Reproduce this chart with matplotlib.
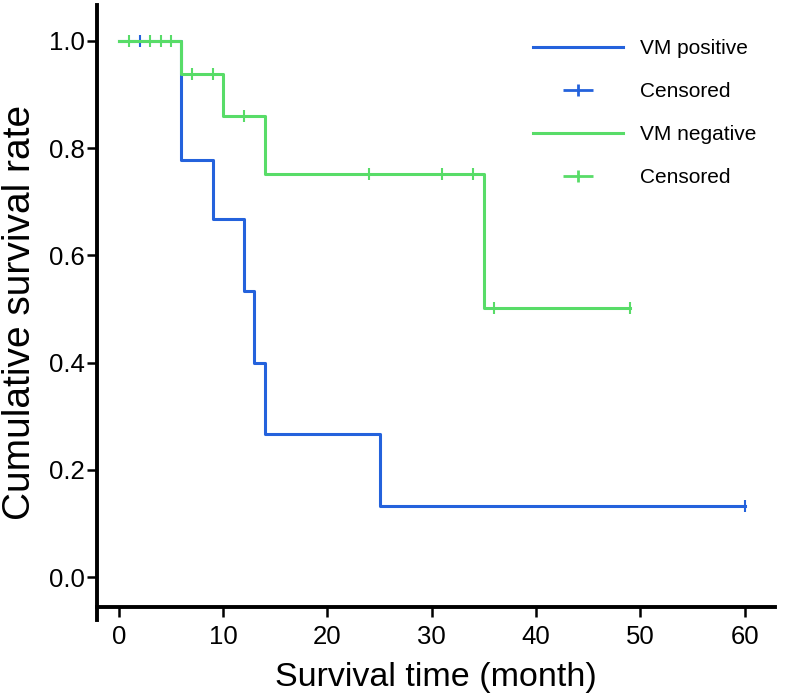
import numpy as np
import matplotlib.pyplot as plt
from matplotlib.path import Path
from matplotlib.lines import Line2D

plt.rcParams['font.family'] = ['Liberation Sans', 'DejaVu Sans']

# VM positive: event times and survival after each step
pos_times = [0, 6, 9, 12, 13, 14, 25, 60]
pos_surv = [1.0, 0.778, 0.667, 0.533, 0.400, 0.267, 0.133, 0.133]
pos_cens_t = [2, 60]
pos_cens_s = [1.0, 0.133]

# VM negative
neg_times = [0, 6, 10, 14, 35, 49]
neg_surv = [1.0, 0.9375, 0.859, 0.752, 0.501, 0.501]
neg_cens_t = [1, 3, 4, 5, 7, 9, 12, 24, 31, 34, 36, 49]
neg_cens_s = [1.0, 1.0, 1.0, 1.0, 0.9375, 0.9375, 0.859, 0.752, 0.752, 0.752, 0.501, 0.501]

blue = '#2462DC'
green = '#58DC68'

# wide "+" used for censor marks in legend
plus = Path([(-1, 0), (1, 0), (0, -0.4), (0, 0.4)],
            [Path.MOVETO, Path.LINETO, Path.MOVETO, Path.LINETO])

fig = plt.figure(figsize=(7.9, 6.96), dpi=100)
ax = fig.add_axes([0.1228, 0.109, 0.858, 0.884])

ax.step(pos_times, pos_surv, where='post', color=blue, lw=2.2)
ax.plot(pos_cens_t, pos_cens_s, ls='none', marker='|', ms=9, mew=1.5, color=blue)
ax.step(neg_times, neg_surv, where='post', color=green, lw=2.2)
ax.plot(neg_cens_t, neg_cens_s, ls='none', marker='|', ms=9, mew=1.5, color=green)

ax.set_xlim(-2.1, 62.9)
ax.set_ylim(-0.08, 1.067)
ax.set_xticks(range(0, 61, 10))
ax.set_yticks(np.arange(0, 1.01, 0.2))
ax.set_yticklabels(['0.0', '0.2', '0.4', '0.6', '0.8', '1.0'])

for s in ['top', 'right']:
    ax.spines[s].set_visible(False)
for s in ['left', 'bottom']:
    ax.spines[s].set_linewidth(2.8)
ax.spines['bottom'].set_position(('data', -0.056))
ax.tick_params(direction='out', length=7, width=1.8, labelsize=18.5)
ax.tick_params(axis='x', pad=6)
ax.tick_params(axis='y', pad=2)

ax.set_xlabel('Survival time (month)', fontsize=24.5, labelpad=9)
ax.set_ylabel('Cumulative survival rate', fontsize=28, labelpad=8)

handles = [
    Line2D([], [], color=blue, lw=2.2),
    Line2D([], [], color=blue, ls='none', marker=plus, ms=22, mew=2),
    Line2D([], [], color=green, lw=2.2),
    Line2D([], [], color=green, ls='none', marker=plus, ms=22, mew=2),
]
labels = ['VM positive', 'Censored', 'VM negative', 'Censored']
ax.legend(handles, labels, loc='upper right', bbox_to_anchor=(1.0, 0.975),
          frameon=False, fontsize=15, handlelength=4.3, labelspacing=1.15,
          numpoints=1)

fig.savefig('out.png', dpi=100)
